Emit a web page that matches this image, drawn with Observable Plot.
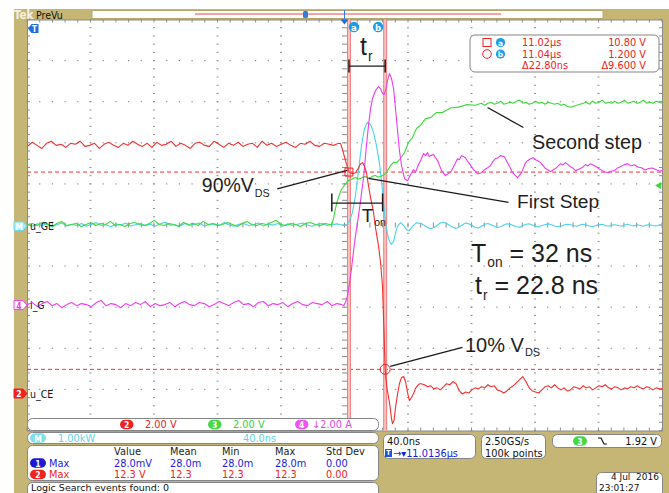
<!DOCTYPE html>
<html><head><meta charset="utf-8">
<script src="https://cdn.jsdelivr.net/npm/d3@7"></script>
<script src="https://cdn.jsdelivr.net/npm/@observablehq/plot@0.6"></script>
<style>
html,body{margin:0;padding:0;background:#fff;}
#chart svg{display:block;}
</style></head><body><div id="chart"></div>
<script>
// ---------------- scope settings ----------------
const xDomain = [-200, 200];          // ns, 40 ns/div, 10 div
const yDomain = [-5, 5];              // divisions
const centerTime = 11.0136;           // µs (horizontal position)
const cursorTimes = [11.0161, 11.0389]; // µs (cursor a, b)
const cursorVolts = [10.8, 1.2];      // V on u_CE
const trigLevel = 1.92;               // V on ch3

// ---------------- traces (t in ns, value in channel units) ----------------
const redPre = [12.05,12.25,12.1,11.95,12.2,12.3,12.1,12.15,12.0,12.2,12.15,12.3,12.05,12.1,12.2,11.95,12.15,12.25,12.1,12.0,12.2,12.1,12.3,12.15,12.05,12.2,12.0,12.25,12.1,12.15,12.3,12.05,12.2,12.1,11.95,12.2,12.25,12.1,12.05,12.3,12.15,12.0,12.2,12.1,12.25,12.05,12.15,12.2,12.0,12.3,12.1,12.2,12.05,12.15,12.25,12.1,12.0,12.2,12.15,12.3,12.1,12.05,12.2,12.15,12.1,12.2];
const redEdge = [[-2.8,12.19],[-1.6,11.9],[0.3,11.36],[2.5,10.8],[4.7,10.72],[6.6,10.77],[8.5,11.0],[9.8,11.2],[11.0,11.26],[12.3,11.07],[13.5,10.77],[14.8,10.14],[16.1,9.56],[18.0,8.83],[19.2,8.1],[21.1,7.22],[22.4,6.4],[23.6,5.28],[24.6,3.0],[25.3,1.2],[26.2,0.4],[28.0,-0.41],[29.3,-1.19],[29.9,-1.44],[30.9,-1.29],[31.8,-0.66],[33.1,-0.02],[34.3,0.51],[35.6,0.80],[36.9,0.85],[38.1,0.61],[39.4,0.07],[40.6,-0.32],[41.9,-0.17],[43.2,0.02],[44.4,0.27],[45.7,0.41],[47.0,0.5]];
const redPost = [0.5,0.45,0.35,0.4,0.25,0.3,0.2,0.35,0.5,0.45,0.6,0.5,0.15,0.0,0.1,0.05,0.2,0.3,0.25,0.35,0.3,0.45,0.35,0.4,0.2,0.15,0.05,0.15,0.3,0.4,0.55,0.7,0.85,0.6,0.3,0.15,0.1,0.05,0.2,0.35,0.4,0.3,0.45,0.3,0.2,0.3,0.15,0.2,0.35,0.3,0.25,0.4,0.3,0.35,0.2,0.3,0.4,0.35,0.45,0.3,0.25,0.35,0.3,0.2,0.3,0.25,0.35,0.3,0.4,0.3,0.25,0.35,0.3,0.2,0.3,0.25,0.25];

const greenPre = [0.05,0.1,0.0,0.15,0.05,-0.05,0.1,0.2,0.0,0.05,0.1,-0.05,0.05,0.15,0.0,0.1,0.05,0.2,0.0,0.05,-0.05,0.1,0.15,0.05,0.0,0.1,0.25,0.05,0.0,0.1,0.05,-0.05,0.15,0.05,0.1,0.0,0.2,0.05,0.1,0.0,0.05,0.15,0.05,-0.05,0.1,0.2,0.05,0.0,0.1,0.05,0.15,0.25,0.05,0.0,0.1,0.05,-0.05,0.1,0.15,0.05,0.0,0.1,0.05];
const greenEdge = [[-8.4,0.05],[-7.2,0.34],[-6.0,0.83],[-4.7,1.22],[-3.5,1.51],[-2.2,1.75],[-0.9,1.9],[0.3,2.04],[2.2,2.19],[4.1,2.24],[6.6,2.34],[8.2,2.27],[9.8,2.29],[11.4,2.36],[12.9,2.38],[14.5,2.31],[16.1,2.34],[17.6,2.41],[19.2,2.43],[20.8,2.36],[22.4,2.38],[24.9,2.48],[26.8,2.68],[28.7,2.92],[30.6,3.07],[32.4,3.05],[35,3.26],[37.5,3.55],[40,4.05],[42.5,4.28],[45,4.72],[47.6,4.88],[50.7,5.2],[53.9,5.25],[57.6,5.5],[61.4,5.5],[66.5,5.72],[71.5,5.76],[76.5,5.88],[82.2,5.85]];
const greenPost = [5.9,5.95,5.85,5.95,6.0,5.9,5.95,6.05,5.9,5.95,6.0,5.95,6.05,6.1,5.95,6.0,5.9,5.95,6.05,5.95,6.0,5.9,6.0,5.95,5.9,5.95,5.85,5.9,5.8,5.75,5.8,5.85,5.9,5.95,6.0,5.9,6.05,5.95,6.0,6.1,5.95,6.0,5.95,6.05,5.95,6.0,6.1,5.95,6.0,6.05,5.95,6.0,6.1,5.95,6.0,5.95,6.05,6.0,5.95];

const cyanPre = [0.02,-0.02,0.04,0.0,0.05,-0.03,0.02,0.06,-0.01,0.03,0.0,0.05,-0.02,0.03,0.07,0.0,0.02,-0.03,0.04,0.01,0.06,-0.01,0.02,0.05,0.0,0.03,-0.02,0.04,0.08,0.01,0.02,-0.02,0.05,0.0,0.03,0.06,-0.01,0.02,0.04,0.0,0.07,0.02,-0.02,0.03,0.05,0.0,0.02,0.06,-0.01,0.03,0.01,0.05,-0.02,0.04,0.0,0.03,0.06,0.01,-0.02,0.03,0.05,0.0,0.02,0.04,0.01];
const cyanEdge = [[-0.9,0.0],[0.9,0.02],[2.8,0.1],[4.7,0.32],[6.6,0.73],[8.5,1.34],[10.4,1.95],[12.3,2.36],[14.2,2.51],[16.1,2.46],[18.0,2.26],[19.8,1.95],[21.7,1.51],[23.0,1.09],[24.3,0.54],[25.5,0.07],[26.8,-0.22],[28.0,-0.39],[29.3,-0.46],[30.6,-0.39],[31.8,-0.19],[33.1,-0.02],[35,0.07],[36.9,0.0],[38.7,-0.1],[40.6,-0.12],[42.5,-0.02],[45,0.07],[47,0.05]];
const cyanPost = [0.05,0.0,-0.05,-0.08,-0.05,0.0,0.06,0.08,0.05,0.0,-0.04,-0.07,-0.03,0.02,0.06,0.04,0.0,-0.05,-0.06,-0.02,0.03,0.05,0.02,-0.02,-0.05,-0.03,0.01,0.04,0.03,0.0,-0.03,-0.04,0.0,0.03,0.04,0.01,-0.02,-0.03,0.0,0.02,0.04,0.02,-0.01,-0.03,-0.02,0.01,0.03,0.02,0.0,-0.02,0.01,0.03,0.01,-0.01,-0.03,0.0,0.02,0.03,0.0,-0.02,0.01,0.02,0.0,-0.02,0.01,0.03,0.0,-0.01,0.02,0.0,-0.02,0.01,0.02,0.0,-0.01,0.01,0.0];

const magPre = [0.05,0.15,-0.05,0.1,0.2,0.0,0.1,-0.1,0.05,0.15,0.0,0.1,0.05,-0.05,0.15,0.25,0.0,0.1,0.05,-0.1,0.1,0.0,0.15,0.05,0.2,-0.05,0.1,0.0,0.05,0.15,-0.05,0.1,0.2,0.05,0.0,0.15,0.1,-0.05,0.05,0.2,0.1,0.0,0.15,0.25,0.05,0.1,-0.05,0.15,0.2,0.0,0.1,0.05,0.15,-0.05,0.1,0.2,0.05,0.0,0.15,0.1,0.05,0.2,0.0,0.1,0.05];
const magEdge = [[-0.9,0],[0.3,0.15],[1.6,0.49],[2.8,1.07],[4.1,1.8],[5.4,2.68],[6.6,3.41],[7.9,4.04],[9.8,5.11],[11.7,6.23],[13.5,7.79],[14.8,8.76],[16.1,9.59],[17.3,10.07],[19.2,10.46],[21.1,10.66],[22.4,10.56],[23.6,10.32],[24.6,10.27],[25.5,10.46],[26.8,10.95],[28.0,11.29],[29.3,11.05],[30.6,10.56],[31.8,9.59],[33.1,8.52],[34.3,7.54],[35.6,6.81],[37.5,6.18],[39.4,6.08],[41.3,6.37],[43.2,6.62],[44.5,6.5],[45.7,6.76],[47.6,7.06],[49.5,7.4],[50.8,7.3],[52,7.45],[53,7.25],[53.9,7.3],[55.8,7.35],[57,7.2],[58.3,7.06],[60.8,6.57],[62,6.45],[63.3,6.33],[65.8,6.47],[67,6.55],[68.4,6.76],[70.9,7.15],[72,7.1],[73.4,7.3],[75.9,7.2],[77,7.05],[78.4,6.91],[80.9,6.62],[82,6.55],[83.5,6.42],[86,6.47],[87.5,6.6],[89.1,6.67],[91.6,6.81],[93,7.0],[94.8,7.15],[96.5,7.2],[97.9,7.3],[100.4,7.25],[103,6.86],[104.2,6.7],[105.5,6.47],[107,6.35],[108.7,6.23],[110,6.35],[111.2,6.47],[113.7,6.96],[115,7.05],[116.9,7.15],[118.5,7.2],[120,7.1],[121.5,7.05],[123.2,6.96],[126.3,6.67],[128,6.6],[129.5,6.52],[131,6.6],[132.6,6.67],[135.8,6.91],[137.3,6.85],[138.9,6.96],[142,6.76],[143.5,6.7],[145.2,6.57],[148.3,6.67],[150,6.75],[151.5,6.86],[153,6.8],[154.6,6.91],[158.4,6.76],[160.2,6.65],[162.2,6.57],[164,6.5],[166,6.47],[168,6.55],[169.8,6.57],[171.6,6.7],[173.5,6.76],[175.7,6.85],[178,6.91],[180,6.8],[182.3,6.86],[184.5,6.75],[186.7,6.71],[189,6.6],[191.2,6.67],[193.5,6.7],[195.6,6.62],[198,6.55],[200,6.57]];

// ---------------- annotations (data coords: ns, div) ----------------
const tonValue = 32, trValue = 22.8;
const singleArrows = [
  {x1:-42.7, y1:0.893, x2:1.4, y2:1.34},     // 90%VDS
  {x1:103.0, y1:0.56, x2:14.8, y2:1.144},    // First Step
  {x1:112.4, y1:2.384, x2:89.8, y2:2.871},   // Second step
  {x1:74.0, y1:-2.968, x2:28.5, y2:-3.43}    // 10% VDS
];
const tonSpan = [-8.3, 23.7], tonLevel = 0.543, tonBar = [0.34, 0.78];
const trLevel = 3.876, trBar = [3.72, 4.04];
const labels = [
  {t:-89.9, d:0.796, size:19.5, parts:[["90%V"],["DS",1]]},
  {t:108.7, d:0.406, size:19.2, parts:[["First Step"]]},
  {t:118.1, d:1.842, size:19.8, parts:[["Second step"]]},
  {t:79.7, d:-0.90, size:25, parts:[["T"],["on",1],[" = "+tonValue+" ns"]]},
  {t:82.2, d:-1.68, size:25, parts:[["t"],["r",1],[" = "+trValue+" ns"]]},
  {t:75.9, d:-3.09, size:20, parts:[["10% V"],["DS",1]]},
  {t:9.76, d:4.136, size:25, parts:[["t"],["r",1]]},
  {t:10.83, d:0.08, size:19, parts:[["T"],["on",1]]}
];

// readouts
const chBar = [["2","2.00 V","#ee2222"],["3","2.00 V","#3cd03c"],["4","↓2.00 A","#e545e5"]];
const mathBar = ["M","1.00kW","40.0ns"];
const measHeader = ["Value","Mean","Min","Max","Std Dev"];
const meas1 = ["28.0mV","28.0m","28.0m","28.0m","0.00"];
const meas2 = ["12.3 V","12.3","12.3","12.3","0.00"];
const cursorRead = [["11.02µs","10.80 V"],["11.04µs","1.200 V"],["Δ22.80ns","Δ9.600 V"]];

// ---------------- build ----------------
const channels = [
  {name:"u_CE", color:"#f0302f", perDiv:2, offset:-4.1, pre:redPre, preT:[-200,-4], edge:redEdge, post:redPost, postT:[48,200]},
  {name:"u_GE", color:"#3cd83c", perDiv:2, offset:0, pre:greenPre, preT:[-200,-9.5], edge:greenEdge, post:greenPost, postT:[84,200]},
  {name:"i_G", color:"#ee3cee", perDiv:2, offset:-1.95, pre:magPre, preT:[-200,-2], edge:magEdge, post:[], postT:[0,0]},
  {name:"math", color:"#4ad3ea", perDiv:1, offset:0, pre:cyanPre, preT:[-200,-2], edge:cyanEdge, post:cyanPost, postT:[48,200]}
];
const even = (vals, t0, t1) => vals.map((v, i) => [t0 + i * (t1 - t0) / (vals.length - 1), v]);
for (const c of channels) {
  const pts = [...even(c.pre, ...c.preT), ...c.edge, ...(c.post.length ? even(c.post, ...c.postT) : [])];
  c.rows = pts.map(([t, v]) => ({t, d: v / c.perDiv + c.offset}));
}
const [RED, GREEN, MAG, CYAN] = channels;
const cursorT = cursorTimes.map(c => (c - centerTime) * 1000);
const cursorD = cursorVolts.map(v => v / RED.perDiv + RED.offset);

const chart = Plot.plot({
  width: 669, height: 493,
  marginLeft: 27, marginRight: 7, marginTop: 19.5, marginBottom: 62.5,
  x: {domain: xDomain, axis: null},
  y: {domain: yDomain, axis: null},
  style: {background: "transparent", overflow: "visible"},
  marks: [
    Plot.frame({fill: "white", stroke: "#8a8a8a"}),
    Plot.ruleY(cursorD, {stroke: "#ee3333", strokeDasharray: "4,3", strokeWidth: 1}),
    Plot.ruleX(cursorT, {stroke: "#ee7f7f", strokeWidth: 4}),
    Plot.ruleX(cursorT, {stroke: "#f9c2c2", strokeWidth: 2}),
    Plot.line(CYAN.rows, {x: "t", y: "d", stroke: CYAN.color, strokeWidth: 1.1}),
    Plot.line(GREEN.rows, {x: "t", y: "d", stroke: GREEN.color, strokeWidth: 1.1}),
    Plot.line(MAG.rows, {x: "t", y: "d", stroke: MAG.color, strokeWidth: 1.1}),
    Plot.line(RED.rows, {x: "t", y: "d", stroke: RED.color, strokeWidth: 1.1}),
    Plot.dot([{t: cursorT[0], d: cursorD[0]}], {x: "t", y: "d", symbol: "square", r: 4.5, stroke: "#ee2222", fill: "none", strokeWidth: 1}),
    Plot.dot([{t: cursorT[1], d: cursorD[1]}], {x: "t", y: "d", symbol: "circle", r: 5, stroke: "#ee2222", fill: "none", strokeWidth: 1}),
    Plot.link(singleArrows, {x1: "x1", y1: "y1", x2: "x2", y2: "y2", stroke: "#1a1a1a", strokeWidth: 1.3, ariaLabel: "ann-arrow"}),
    Plot.link([{x1: cursorT[0], x2: cursorT[1], y: trLevel}, {x1: tonSpan[0], x2: tonSpan[1], y: tonLevel}],
      {x1: "x1", x2: "x2", y1: "y", y2: "y", stroke: "#1a1a1a", strokeWidth: 1.3, ariaLabel: "ann-darrow"}),
    Plot.link([{x: cursorT[0], a: trBar[0], b: trBar[1]}, {x: cursorT[1], a: trBar[0], b: trBar[1]},
               {x: tonSpan[0], a: tonBar[0], b: tonBar[1]}, {x: tonSpan[1], a: tonBar[0], b: tonBar[1]}],
      {x1: "x", x2: "x", y1: "a", y2: "b", stroke: "#1a1a1a", strokeWidth: 1.5})
  ]
});
document.getElementById("chart").append(chart);

const svgNS = "http://www.w3.org/2000/svg";
const svg = d3.select(chart);
const X = t => chart.scale("x").apply(t);
const Y = d => chart.scale("y").apply(d);
const SF = "'DejaVu Sans', sans-serif";
const AF = "'Liberation Sans', Arial, sans-serif";

// tan instrument background
svg.insert("rect", ":first-child").attr("x", 14).attr("y", 9).attr("width", 655).attr("height", 484).attr("fill", "#c6b676");

// graticule after frame
const frameNode = chart.querySelector('[aria-label="frame"]');
const grNode = document.createElementNS(svgNS, "g");
frameNode.after(grNode);
const gr = d3.select(grNode).attr("fill", "#8d8d8d");
const majX = d3.range(-200, 201, 40), minX = d3.range(-200, 200.01, 8);
const majY = d3.range(-5, 5.01, 1), minY = d3.range(-5, 5.001, 0.2);
for (const mx of majX) if (Math.abs(mx) > 1 && Math.abs(mx) < 199)
  for (const my of minY) gr.append("rect").attr("x", X(mx) - 1).attr("y", Y(my) - 0.5).attr("width", 2).attr("height", 1);
for (const my of majY) if (Math.abs(my) > 0.01 && Math.abs(my) < 4.99)
  for (const mx of minX) gr.append("rect").attr("x", X(mx) - 0.6).attr("y", Y(my) - 0.6).attr("width", 1.2).attr("height", 1.2);
for (const my of minY) {
  gr.append("rect").attr("x", X(0) - 2.5).attr("y", Y(my) - 0.5).attr("width", 5).attr("height", 1);
  gr.append("rect").attr("x", X(-200)).attr("y", Y(my) - 0.5).attr("width", 3).attr("height", 1);
  gr.append("rect").attr("x", X(200) - 3).attr("y", Y(my) - 0.5).attr("width", 3).attr("height", 1);
}
for (const mx of minX) {
  gr.append("rect").attr("x", X(mx) - 0.5).attr("y", Y(0) - 2.5).attr("width", 1).attr("height", 5);
  gr.append("rect").attr("x", X(mx) - 0.5).attr("y", Y(5)).attr("width", 1).attr("height", 3);
  gr.append("rect").attr("x", X(mx) - 0.5).attr("y", Y(-5) - 3).attr("width", 1).attr("height", 3);
}

// arrowhead markers
const defs = svg.append("defs");
defs.append("marker").attr("id", "ah").attr("viewBox", "0 0 12 8").attr("refX", 11.5).attr("refY", 4)
  .attr("markerWidth", 12).attr("markerHeight", 7).attr("markerUnits", "userSpaceOnUse").attr("orient", "auto-start-reverse")
  .append("path").attr("d", "M0,0 L12,4 L0,8 Z").attr("fill", "#1a1a1a");
svg.selectAll('g[aria-label="ann-arrow"] path').attr("marker-end", "url(#ah)");
svg.selectAll('g[aria-label="ann-darrow"] path').attr("marker-end", "url(#ah)").attr("marker-start", "url(#ah)");

const ov = svg.append("g").attr("text-anchor", "start");
function txt(x, y, s, o = {}) {
  return ov.append("text").attr("x", x).attr("y", y).text(s)
    .attr("font-family", o.font || SF).attr("font-size", o.size || 11)
    .attr("fill", o.fill || "#111").attr("text-anchor", o.anchor || "start")
    .attr("dominant-baseline", o.base || "central").attr("font-weight", o.weight || "normal")
    .style("font-stretch", o.stretch || "condensed");
}
function pill(x, y, w, h, fill, label, stroke, color) {
  ov.append("rect").attr("x", x).attr("y", y - h / 2).attr("width", w).attr("height", h).attr("rx", h / 2)
    .attr("fill", fill).attr("stroke", stroke || "none");
  txt(x + w / 2, y + 0.5, label, {fill: color || "#fff", size: 8.5, anchor: "middle", weight: "bold"});
}
function box(x, y, w, h, r = 5) {
  ov.append("rect").attr("x", x).attr("y", y).attr("width", w).attr("height", h).attr("rx", r)
    .attr("fill", "white").attr("stroke", "#858585").attr("stroke-width", 1);
}
function tag(x, y, w, h, fill, stroke, label, color) {
  ov.append("path").attr("d", `M${x},${y - h / 2} H${x + w - 4} L${x + w},${y} L${x + w - 4},${y + h / 2} H${x} Z`)
    .attr("fill", fill).attr("stroke", stroke);
  txt(x + (w - 4) / 2 + 0.5, y + 0.5, label, {fill: color, size: 8.5, anchor: "middle", weight: "bold"});
}

// header
txt(14, 14.5, "Tek", {fill: "#f4f1e2", size: 11.5, weight: "bold"});
txt(36, 14.5, "PreVu", {fill: "#111", size: 10.5});
ov.append("rect").attr("x", 92).attr("y", 10.5).attr("width", 511).attr("height", 8).attr("fill", "white").attr("stroke", "#b8a868");
ov.append("line").attr("x1", 195).attr("x2", 501).attr("y1", 14).attr("y2", 14).attr("stroke", "#ee4444");
ov.append("rect").attr("x", 303).attr("y", 11).attr("width", 5).attr("height", 7).attr("rx", 1.5).attr("fill", "#2a7de1");
ov.append("line").attr("x1", X(0)).attr("x2", X(0)).attr("y1", 10).attr("y2", 19).attr("stroke", "#2a7de1");
ov.append("path").attr("d", `M${X(0) - 4},${Y(5)} L${X(0) + 4},${Y(5)} L${X(0)},${Y(5) + 5} Z`).attr("fill", "#1f6fd6");
// trigger-time tag top-left
ov.append("path").attr("d", "M28,28.5 L31.5,24 H38.5 V33 H31.5 Z").attr("fill", "#1f6fd6");
txt(34.5, 29, "T", {fill: "#fff", size: 8, anchor: "middle", weight: "bold"});
// trigger level marker (ch3)
const tl = Y(trigLevel / GREEN.perDiv + GREEN.offset);
ov.append("path").attr("d", `M${X(200) - 7},${tl} L${X(200) - 1},${tl - 3.5} L${X(200) - 1},${tl + 3.5} Z`).attr("fill", GREEN.color);

// cursor letters
for (const [i, l] of [[0, "a"], [1, "b"]]) {
  const cx = X(cursorT[i]) + (i === 0 ? 5.5 : -6.5);
  ov.append("circle").attr("cx", cx).attr("cy", 27).attr("r", 5.2).attr("fill", "#1c9ee6");
  txt(cx, 27.5, l, {fill: "#fff", size: 8.5, anchor: "middle", weight: "bold", stretch: "normal"});
}

// channel ground tags & names
tag(14, Y(CYAN.offset) + 1, 13, 9, "#a6ecf4", "#6fd8e8", "M", "#fff");
tag(14, Y(MAG.offset), 13, 9, "#fff", MAG.color, "4", MAG.color);
tag(14, Y(RED.offset), 13, 9, "#ee2222", "#ee2222", "2", "#fff");
txt(X(-200) + 3, Y(GREEN.offset) + 1, "u_GE", {size: 10.5});
txt(X(-200) + 3, Y(MAG.offset), "i_G", {size: 10.5});
txt(X(-200) + 3, Y(RED.offset), "u_CE", {size: 10.5});

// cursor readout box
box(470, 35, 189, 37);
ov.append("rect").attr("x", 483).attr("y", 38.5).attr("width", 8).attr("height", 8).attr("fill", "none").attr("stroke", "#ee2222");
ov.append("circle").attr("cx", 487).attr("cy", 54).attr("r", 4.3).attr("fill", "none").attr("stroke", "#ee2222");
for (const [i, l] of [[0, "a"], [1, "b"]]) {
  ov.append("circle").attr("cx", 500.5).attr("cy", 42.5 + i * 11.5).attr("r", 4.6).attr("fill", "#1c9ee6");
  txt(500.5, 43 + i * 11.5, l, {fill: "#fff", size: 7.5, anchor: "middle", weight: "bold", stretch: "normal"});
}
cursorRead.forEach((r, i) => {
  txt(522, 42.5 + i * 11.5, r[0], {fill: "#ee2222", size: 9.8, stretch: "normal"});
  txt(646, 42.5 + i * 11.5, r[1], {fill: "#ee2222", size: 9.8, anchor: "end", stretch: "normal"});
});

// bottom-left panels
const RF = {size: 9.8, stretch: "normal"};
box(27.5, 418.5, 351, 12);
pill(120, 424.5, 13.5, 9.5, "#ee2222", chBar[0][0]); txt(145, 424.5, chBar[0][1], {...RF, fill: chBar[0][2]});
pill(208, 424.5, 13.5, 9.5, "#44d844", chBar[1][0]); txt(233, 424.5, chBar[1][1], {...RF, fill: chBar[1][2]});
pill(295, 424.5, 13.5, 9.5, "#ee55ee", chBar[2][0]); txt(312, 424.5, chBar[2][1], {...RF, fill: chBar[2][2]});
box(27.5, 432.5, 351, 11);
pill(30, 438, 16, 9.5, "#7fe0ee", mathBar[0]);
txt(58, 438, mathBar[1], {...RF, fill: "#5fd3e6"});
txt(243, 438, mathBar[2], {...RF, fill: "#5fd3e6"});
box(27.5, 445.5, 351, 35);
const cols = [114, 170, 222, 275, 326];
measHeader.forEach((h, i) => txt(cols[i], 451.5, h, {...RF, fill: "#222"}));
pill(30, 463, 16, 9.5, "#1a1ad6", "1"); txt(49, 463, "Max", {...RF, fill: "#1a1ae0"});
meas1.forEach((v, i) => txt(cols[i], 463, v, {...RF, fill: "#1a1ae0"}));
pill(30, 474.5, 16, 9.5, "#ee2222", "2"); txt(49, 474.5, "Max", {...RF, fill: "#ee2222"});
meas2.forEach((v, i) => txt(cols[i], 474.5, v, {...RF, fill: "#ee2222"}));
box(27.5, 482.5, 351, 16);
txt(31, 487.6, "Logic Search events found: 0", {size: 9.5, stretch: "normal", fill: "#111"});

// bottom-right panels
box(383.5, 434.5, 92, 24);
txt(387, 441, "40.0ns", {...RF, fill: "#111"});
ov.append("rect").attr("x", 385).attr("y", 449).attr("width", 7).attr("height", 8).attr("fill", "#1a55e0");
txt(388.5, 453.2, "T", {fill: "#fff", size: 7, anchor: "middle", weight: "bold"});
txt(393, 453, "→▾" + centerTime.toFixed(4) + "µs", {...RF, fill: "#1a1ae0"});
box(481.5, 434.5, 64, 24);
txt(485, 441, "2.50GS/s", {...RF, fill: "#111"});
txt(485, 453, "100k points", {...RF, fill: "#111"});
box(552.5, 434.5, 109, 13);
pill(573, 441, 14, 9.5, "#44d844", "3");
ov.append("path").attr("d", "M598,438 H601 L604,444 H607").attr("fill", "none").attr("stroke", "#111").attr("stroke-width", 1.2);
txt(657, 441, trigLevel.toFixed(2) + " V", {...RF, fill: "#111", anchor: "end"});
box(596.5, 472.5, 66, 24);
txt(659, 477, "4 Jul  2016", {size: 9, stretch: "normal", fill: "#111", anchor: "end"});
txt(599, 487.6, "23:01:27", {size: 9, stretch: "normal", fill: "#111"});

// annotation texts (through the plot scales)
for (const L of labels) {
  const t = ov.append("text").attr("x", X(L.t)).attr("y", Y(L.d)).attr("text-anchor", "start")
    .attr("font-family", AF).attr("font-size", L.size).attr("fill", "#1e1e1e");
  L.parts.forEach(([s, sub], k) => {
    const ts = t.append("tspan").text(s);
    if (sub) ts.attr("font-size", L.size * 0.55).attr("dy", L.size * 0.22).attr("dx", 1);
    else if (k > 0) ts.attr("dy", -L.size * 0.22);
  });
}
</script></body></html>
